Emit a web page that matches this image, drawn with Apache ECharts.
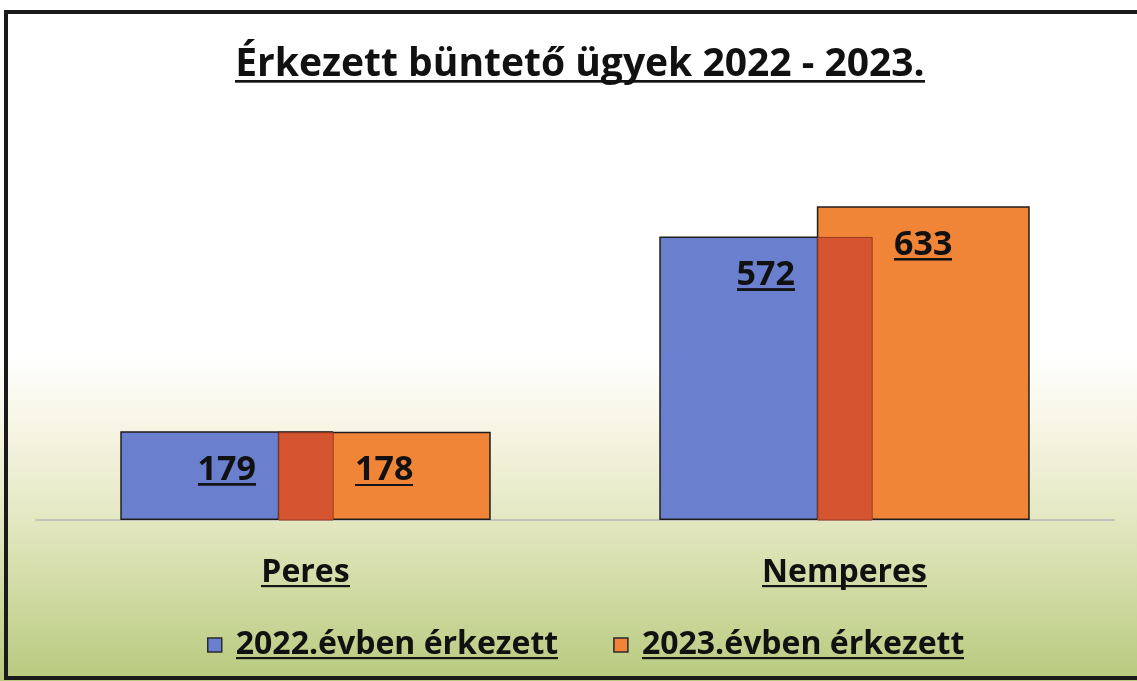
<!DOCTYPE html>
<html>
<head>
<meta charset="utf-8">
<script src="https://cdn.jsdelivr.net/npm/echarts@6/dist/echarts.min.js"></script>
<style>
  html, body { margin: 0; padding: 0; background: #fff; }
  #chart { width: 1137px; height: 681px; }
</style>
</head>
<body>
<div id="chart"></div>
<script>
const categories = ['Peres', 'Nemperes'];
const seriesNames = ['2022.évben érkezett', '2023.évben érkezett'];
const values2022 = [179, 572];
const values2023 = [178, 633];

const BAR_W = 0.395;   // share of category band
const BAR_GAP = -0.26; // overlap between the two bars
const FONT = '"Open Sans", Lato, sans-serif';

// stretched as rich-text background to fake an underline
function underline() {
    const c = document.createElement('canvas');
    c.width = 4;
    c.height = 100;
    const g = c.getContext('2d');
    g.fillStyle = '#141414';
    g.fillRect(0, 88, 4, 7);
    return c;
}
const ul = underline();

function uStyle(size, lh) {
    return {
        u: { fontSize: size, fontWeight: 'bold', fontFamily: FONT, color: '#111', lineHeight: lh, backgroundColor: { image: ul } },
        s: { width: 9, lineHeight: lh }
    };
}

const overlap = categories.map((c, i) => [i, Math.min(values2022[i], values2023[i])]);

const chart = echarts.init(document.getElementById('chart'));
chart.setOption({
    animation: false,
    backgroundColor: new echarts.graphic.LinearGradient(0, 0, 0, 1, [
        { offset: 0, color: '#ffffff' },
        { offset: 0.52, color: '#ffffff' },
        { offset: 0.63, color: '#f6f5e4' },
        { offset: 0.76, color: '#e4e8c2' },
        { offset: 1, color: '#b8ca7e' }
    ]),
    title: {
        text: '{u|Érkezett büntető ügyek 2022 - 2023.}',
        left: 575,
        top: 36,
        textAlign: 'center',
        textStyle: { rich: uStyle(39, 48) }
    },
    legend: {
        data: seriesNames,
        left: 202,
        top: 624,
        icon: 'rect',
        itemWidth: 14,
        itemHeight: 14,
        itemGap: 55,
        itemStyle: { borderColor: '#2a2a2a', borderWidth: 1.5 },
        formatter: n => '{s|}{u|' + n + '}',
        textStyle: { rich: uStyle(32, 38) }
    },
    grid: { left: 36, right: 23, top: 173, bottom: 161 },
    xAxis: {
        type: 'category',
        data: categories,
        axisLine: { lineStyle: { color: '#c4c4bc', width: 2 } },
        axisTick: { show: false },
        axisLabel: {
            margin: 33,
            formatter: v => '{u|' + v + '}',
            rich: uStyle(32, 40)
        }
    },
    yAxis: { type: 'value', min: 0, max: 700, show: false, splitLine: { show: false } },
    series: [
        {
            name: seriesNames[0],
            type: 'bar',
            data: values2022,
            barWidth: (BAR_W * 100) + '%',
            barGap: (BAR_GAP * 100) + '%',
            itemStyle: { color: '#6b7fcf', borderColor: '#1e1e1e', borderWidth: 1.5 },
            label: {
                show: true, position: 'insideTop', distance: 20,
                formatter: '{u|{c}}', rich: uStyle(34, 38)
            }
        },
        {
            name: seriesNames[1],
            type: 'bar',
            data: values2023,
            barWidth: (BAR_W * 100) + '%',
            itemStyle: { color: '#f08538', borderColor: '#1e1e1e', borderWidth: 1.5 },
            label: {
                show: true, position: 'insideTop', distance: 20,
                formatter: '{u|{c}}', rich: uStyle(34, 38)
            }
        },
        {
            // where the two bars cover each other
            type: 'custom',
            z: 3,
            data: overlap,
            renderItem: (params, api) => {
                const base = api.coord([api.value(0), 0]);
                const top = api.coord([api.value(0), api.value(1)]);
                const bw = api.size([1, 0])[0] * BAR_W;
                const gap = bw * BAR_GAP;
                const x0 = base[0] - (2 * bw + gap) / 2 + bw + gap;
                return {
                    type: 'rect',
                    shape: { x: x0 + 1, y: top[1] + 1, width: -gap - 1, height: base[1] - top[1] - 1 },
                    style: { fill: '#d4552f', stroke: '#9a3a20', lineWidth: 1 }
                };
            }
        }
    ],
    graphic: [{
        type: 'rect',
        z: 100,
        shape: { x: 6, y: 12, width: 1140, height: 666 },
        style: { fill: null, stroke: '#1a1a1a', lineWidth: 4 }
    }]
});
</script>
</body>
</html>
